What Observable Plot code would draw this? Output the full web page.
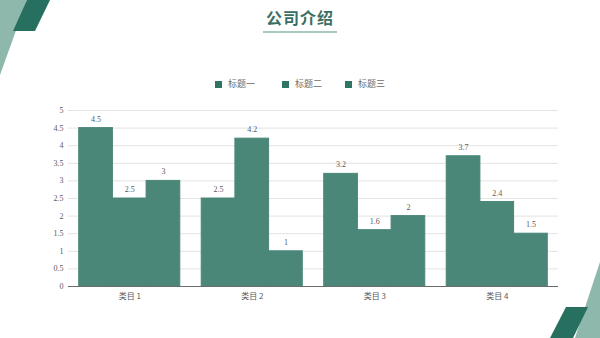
<!DOCTYPE html>
<html>
<head>
<meta charset="utf-8">
<script src="https://cdn.jsdelivr.net/npm/d3@7"></script>
<script src="https://cdn.jsdelivr.net/npm/@observablehq/plot@0.6"></script>
<style>
  html, body { margin: 0; padding: 0; background: #fff; }
  #page { position: relative; width: 600px; height: 338px; overflow: hidden; background: #fff;
    font-family: "Liberation Serif", "Noto Sans CJK SC", serif; }
  #deco { position: absolute; left: 0; top: 0; }
  #title { position: absolute; left: 0; width: 600px; top: 5px; text-align: center;
    font-family: "Noto Sans CJK SC", sans-serif; font-weight: bold; font-size: 16px; color: #3b6f63; letter-spacing: 1px; }
  #rule { position: absolute; left: 263px; top: 31px; width: 74px; height: 1.5px; background: #a9c9c0; }
  #legend { position: absolute; left: 0; top: 76px; width: 600px; height: 16px; }
  .lg { position: absolute; top: 0; font-family: "Noto Sans CJK SC", sans-serif; font-size: 9px; color: #6b6b6b; line-height: 16px; white-space: nowrap; }
  .sw { display: inline-block; width: 7px; height: 7px; background: #2f7564; margin-right: 6px; vertical-align: -0.5px; }
  .layer { position: absolute; left: 0; top: 100px; }
</style>
</head>
<body>
<div id="page">
  <svg id="deco" width="600" height="338">
    <polygon points="0,0 27,0 0,75" fill="#8fb8ad"/>
    <polygon points="27,0 50,0 35,31 13,31" fill="#27705f"/>
    <polygon points="600,262 600,338 575,338 594,280 600,262" fill="#8fb8ad"/>
    <polygon points="566,307 588,307 573,338 550,338" fill="#27705f"/>
  </svg>
  <div id="title">公司介绍</div>
  <div id="rule"></div>
  <div id="legend"></div>
  <div id="backLayer" class="layer"></div>
  <div id="frontLayer" class="layer"></div>
  <div id="baseLayer" class="layer"></div>
</div>
<script>
const categories = ["类目 1", "类目 2", "类目 3", "类目 4"];
const seriesNames = ["标题一", "标题二", "标题三"];
const series1 = [4.5, 2.5, 3.2, 3.7];
const series2 = [2.5, 4.2, 1.6, 2.4];
const series3 = [3, 1, 2, 1.5];
const yTicks = [0, 0.5, 1, 1.5, 2, 2.5, 3, 3.5, 4, 4.5, 5];

const seriesValues = [series1, series2, series3];
const data = [];
categories.forEach((c, i) => {
  seriesNames.forEach((s, j) => data.push({category: c, series: s, value: seriesValues[j][i]}));
});

// legend
const legendX = [215, 282, 345];
const legendEl = document.getElementById("legend");
seriesNames.forEach((s, j) => {
  const el = document.createElement("div");
  el.className = "lg";
  el.style.left = legendX[j] + "px";
  el.innerHTML = '<span class="sw"></span>' + s;
  legendEl.appendChild(el);
});

const barColor = "#4a8779";
const textColor = "#595959";
const common = {
  width: 600,
  height: 210,
  marginLeft: 68,
  marginRight: 42,
  marginTop: 10,
  marginBottom: 24,
  style: {fontFamily: '"Liberation Serif", "Noto Sans CJK SC", serif', fontSize: "8px", color: textColor, background: "transparent"},
  y: {domain: [0, 5], ticks: yTicks, label: null}
};

// background layer: grid and y axis (continuous across categories)
const backPlot = Plot.plot({
  ...common,
  marks: [
    Plot.gridY(yTicks.filter(d => d > 0), {stroke: "#e3e3e3", strokeOpacity: 1, strokeWidth: 1}),
    Plot.axisY(yTicks, {tickSize: 0, tickPadding: 5, tickFormat: d => String(d), label: null, fill: textColor})
  ]
});
document.getElementById("backLayer").appendChild(backPlot);

// front layer: grouped bars via fx facets
const frontPlot = Plot.plot({
  ...common,
  fx: {domain: categories, paddingInner: 0.175, paddingOuter: 0.0875, round: false, label: null, axis: null},
  x: {domain: seriesNames, padding: 0, round: false, axis: null},
  y: {...common.y, axis: null},
  marks: [
    Plot.barY(data, {fx: "category", x: "series", y: "value", fill: barColor, stroke: barColor, strokeWidth: 1, inset: 0}),
    Plot.text(data, {fx: "category", x: "series", y: "value", text: d => String(d.value), dy: -9, fill: textColor, fontSize: 8}),
    Plot.axisFx({anchor: "bottom", tickSize: 0, tickPadding: 7, label: null, fill: textColor, fontFamily: '"Noto Sans CJK SC", sans-serif', fontSize: 8})
  ]
});
document.getElementById("frontLayer").appendChild(frontPlot);

// top layer: baseline over the bars
const basePlot = Plot.plot({
  ...common,
  y: {...common.y, axis: null},
  marks: [
    Plot.ruleY([0], {stroke: "#6b6b6b", strokeWidth: 1.2})
  ]
});
document.getElementById("baseLayer").appendChild(basePlot);
</script>
</body>
</html>
